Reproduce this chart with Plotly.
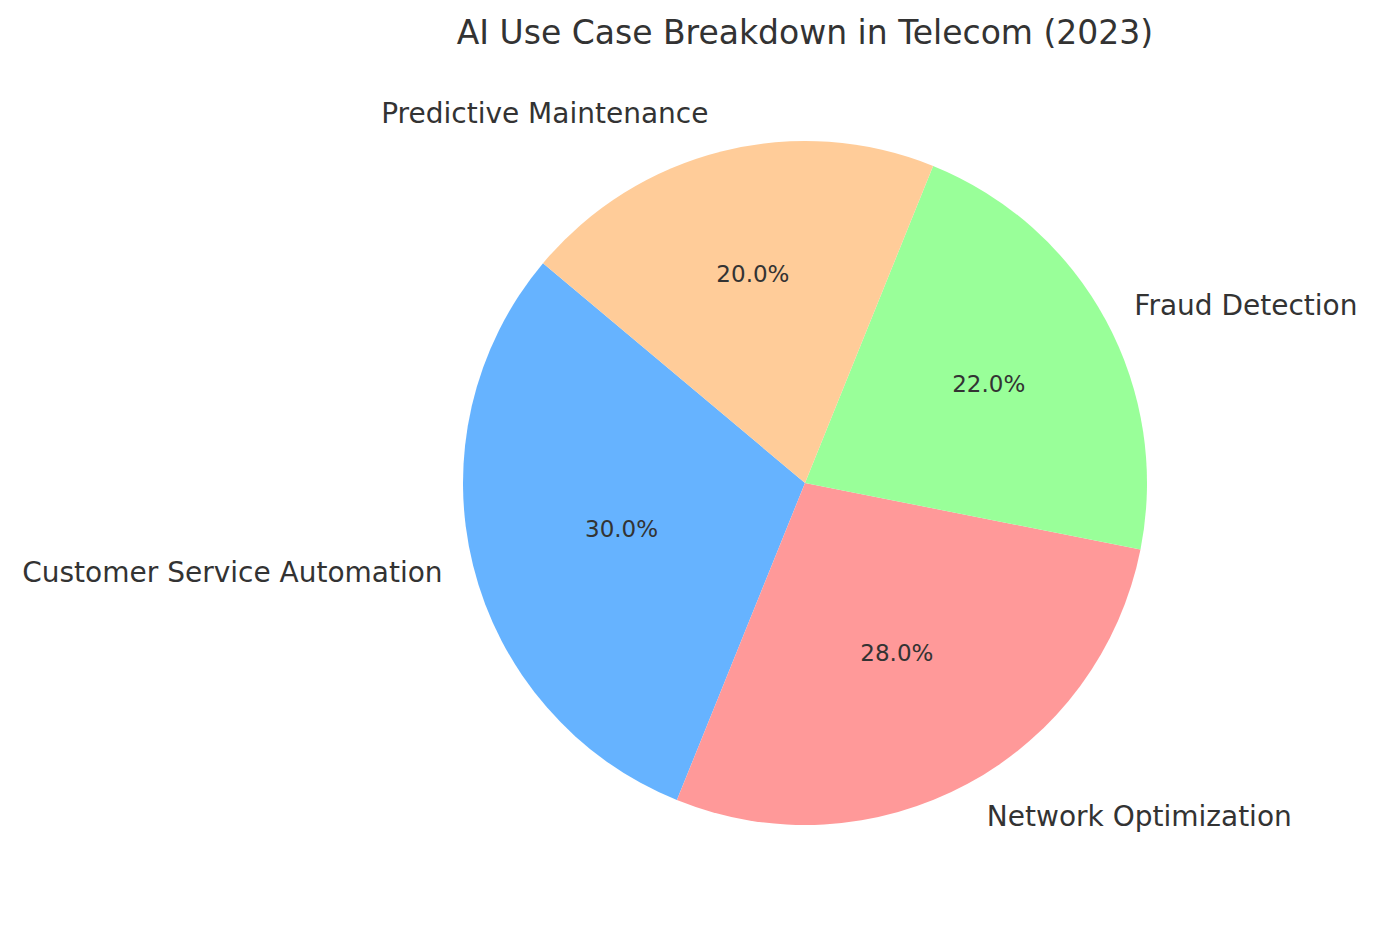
import plotly.graph_objects as go

# data
use_cases = ["Customer Service Automation", "Network Optimization",
             "Fraud Detection", "Predictive Maintenance"]
shares = [30, 28, 22, 20]
slice_colors = ["#66b3ff", "#ff9999", "#99ff99", "#ffcc99"]

txt = "#333333"
font = "DejaVu Sans"
W, H = 1378, 927
cx, cy = 797, 475      # pie centre in px (from top-left)
r_pie, r_lab = 342, 365


def square_domain(r):
    return dict(x=[(cx - r) / W, (cx + r) / W],
                y=[(H - cy - r) / H, (H - cy + r) / H])


fig = go.Figure()

# coloured slices with percentages inside
fig.add_trace(go.Pie(
    labels=use_cases,
    values=shares,
    sort=False,
    direction="counterclockwise",
    rotation=-158,
    marker=dict(colors=slice_colors, line=dict(width=0)),
    texttemplate="%{percent:.1%}",
    textposition="inside",
    insidetextorientation="horizontal",
    insidetextfont=dict(size=23, color=txt, family=font),
    domain=square_domain(r_pie),
    showlegend=False,
    hoverinfo="label+percent",
))

# a see-through, slightly bigger copy carries the outside labels
fig.add_trace(go.Pie(
    labels=use_cases,
    values=shares,
    sort=False,
    direction="counterclockwise",
    rotation=-158,
    marker=dict(colors=["rgba(0,0,0,0)"] * len(shares), line=dict(width=0)),
    textinfo="label",
    textposition="outside",
    outsidetextfont=dict(size=28, color=txt, family=font),
    domain=square_domain(r_lab),
    showlegend=False,
    hoverinfo="skip",
))

fig.update_layout(
    width=W,
    height=H,
    margin=dict(l=0, r=0, t=0, b=0),
    paper_bgcolor="white",
    plot_bgcolor="white",
    font=dict(family=font, color=txt),
    title=dict(
        text="AI Use Case Breakdown in Telecom (2023)",
        x=cx / W, xanchor="center",
        y=1 - 24 / H, yanchor="middle",
        font=dict(size=33, color=txt, family=font),
    ),
)

fig.write_html("out.html")
